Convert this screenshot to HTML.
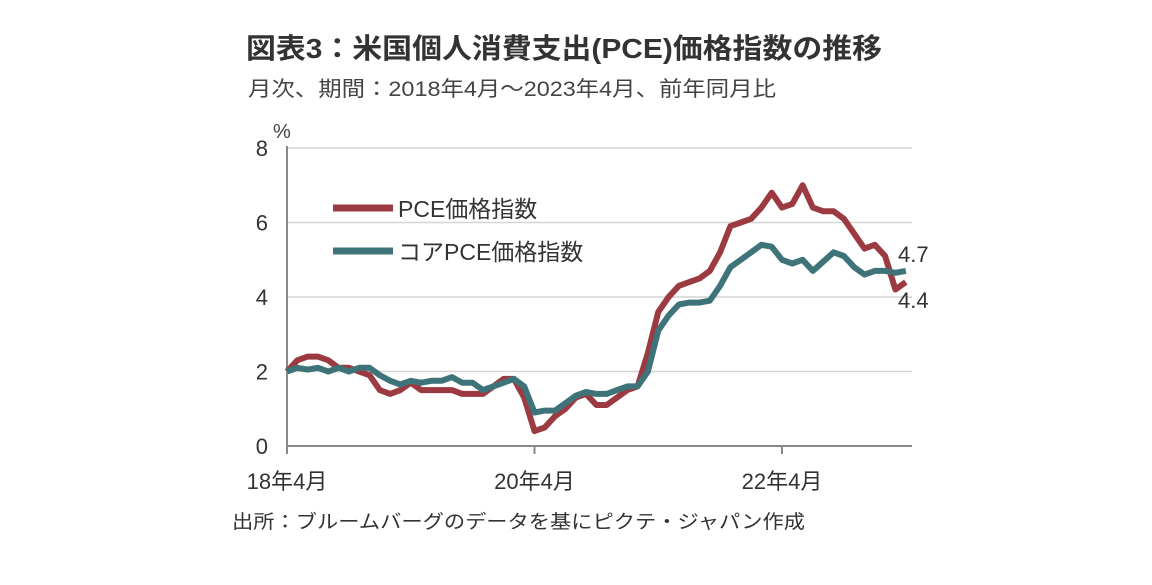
<!DOCTYPE html>
<html><head><meta charset="utf-8"><style>
body{margin:0;background:#fff;width:1152px;height:580px;overflow:hidden;font-family:"Liberation Sans","Noto Sans CJK JP",sans-serif;}
</style></head><body>
<svg width="1152" height="580" style="font-family:'Liberation Sans','Noto Sans CJK JP',sans-serif">
<text x="246" y="58" font-size="28" font-weight="bold" fill="#333" textLength="636" lengthAdjust="spacingAndGlyphs">図表3：米国個人消費支出(PCE)価格指数の推移</text>
<text x="248" y="96" font-size="21" fill="#444" textLength="528" lengthAdjust="spacingAndGlyphs">月次、期間：2018年4月～2023年4月、前年同月比</text>
<text x="273" y="138" font-size="20" fill="#444">%</text>
<g id="grid"></g><g id="axes"></g><g id="lines"></g>
<line x1="333" y1="208" x2="393" y2="208" stroke="#9b3a40" stroke-width="7"/>
<text x="398" y="217" font-size="23" fill="#333">PCE価格指数</text>
<line x1="333" y1="251" x2="393" y2="251" stroke="#3e7479" stroke-width="7"/>
<text x="398" y="260" font-size="23" fill="#333">コアPCE価格指数</text>
<text x="898" y="262" font-size="22" fill="#333">4.7</text>
<text x="898" y="308" font-size="22" fill="#333">4.4</text>
<text x="232" y="528" font-size="19" fill="#333" textLength="573" lengthAdjust="spacingAndGlyphs">出所：ブルームバーグのデータを基にピクテ・ジャパン作成</text>
</svg>
<script>
const pce=[2.0,2.3,2.4,2.4,2.3,2.1,2.1,2.0,1.9,1.5,1.4,1.5,1.7,1.5,1.5,1.5,1.5,1.4,1.4,1.4,1.6,1.8,1.8,1.3,0.4,0.5,0.8,1.0,1.3,1.4,1.1,1.1,1.3,1.5,1.6,2.5,3.6,4.0,4.3,4.4,4.5,4.7,5.2,5.9,6.0,6.1,6.4,6.8,6.4,6.5,7.0,6.4,6.3,6.3,6.1,5.7,5.3,5.4,5.1,4.2,4.4];
const core=[2.0,2.1,2.05,2.1,2.0,2.1,2.0,2.1,2.1,1.9,1.75,1.65,1.75,1.7,1.75,1.75,1.85,1.7,1.7,1.5,1.6,1.7,1.8,1.6,0.9,0.95,0.95,1.15,1.35,1.45,1.4,1.4,1.5,1.6,1.6,2.0,3.1,3.5,3.8,3.85,3.85,3.9,4.3,4.8,5.0,5.2,5.4,5.35,5.0,4.9,5.0,4.7,4.95,5.2,5.1,4.8,4.6,4.7,4.7,4.65,4.7];
const yTicks=[0,2,4,6,8];
const xTickIdx=[0,24,48];
const xTickLabels=["18年4月","20年4月","22年4月"];
const NS="http://www.w3.org/2000/svg";
const X=i=>287+i*(782-287)/48, Y=v=>446-v*(446-148)/8;
function mk(t,a,p){const e=document.createElementNS(NS,t);for(const k in a)e.setAttribute(k,a[k]);p.appendChild(e);return e;}
const g=document.getElementById('grid'),ax=document.getElementById('axes'),ln=document.getElementById('lines');
yTicks.forEach(v=>{
 if(v>0){const l=mk('line',{x1:287,x2:912,y1:Y(v),y2:Y(v),stroke:'#d4d4d4','stroke-width':1.5},g);
 
 }
 const t=mk('text',{x:268,y:Y(v)+8,'font-size':22,fill:'#333','text-anchor':'end'},ax);t.textContent=v;
 
 
});
const ya=mk('line',{x1:287,x2:287,y1:146,y2:446,stroke:'#888','stroke-width':2},ax);


const xa=mk('line',{x1:286,x2:912,y1:446,y2:446,stroke:'#888','stroke-width':2},ax);


xTickIdx.forEach((i,k)=>{
 mk('line',{x1:X(i),x2:X(i),y1:446,y2:454,stroke:'#888','stroke-width':2},ax);
 const t=mk('text',{x:X(i),y:489,'font-size':22,fill:'#333','text-anchor':'middle'},ax);t.textContent=xTickLabels[k];
 
 
});
function path(d,c,n){const p=mk('path',{d:d.map((v,i)=>(i?'L':'M')+X(i).toFixed(1)+','+Y(v).toFixed(1)).join(''),fill:'none',stroke:c,'stroke-width':6,'stroke-linejoin':'round'},ln);
 
 }
path(pce,'#9b3a40','pce-line');
path(core,'#3e7479','core-pce-line');
</script>
</body></html>
